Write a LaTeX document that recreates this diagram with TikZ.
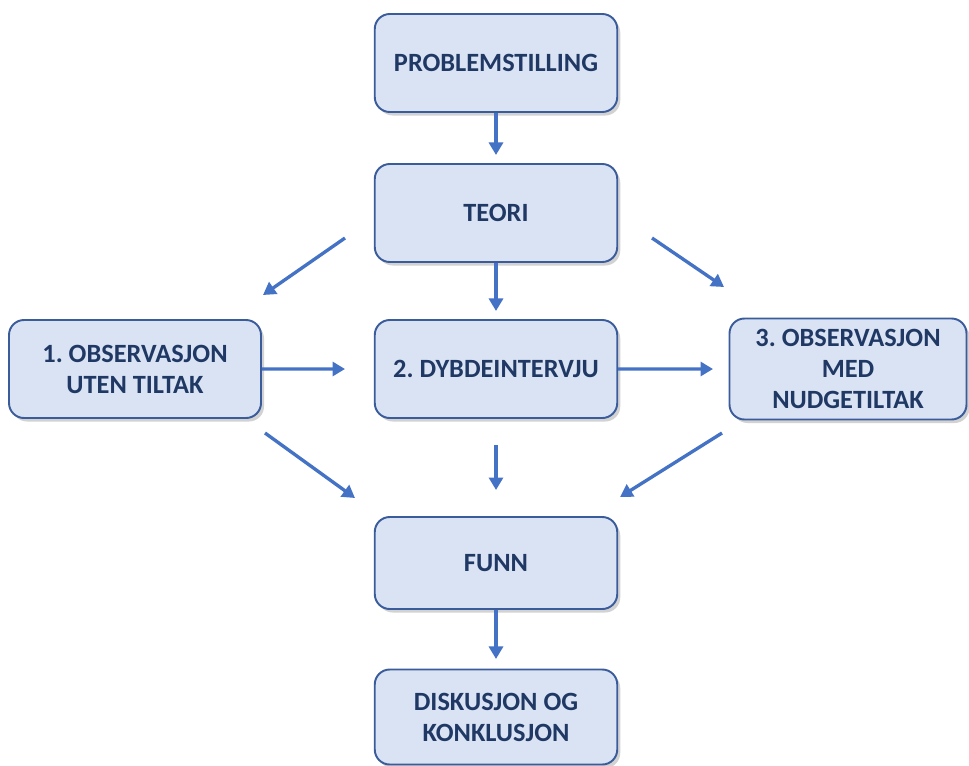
\documentclass[tikz,border=0pt]{standalone}
\usepackage{fontspec}
\setmainfont{Carlito}
\usepackage{xcolor}
\usepackage{tikz}
\usetikzlibrary{arrows.meta,shapes,positioning,calc,shadows}
\frenchspacing

\definecolor{boxfill}{HTML}{DAE3F3}
\definecolor{boxline}{HTML}{3B5C9A}
\definecolor{boxtext}{HTML}{1F3864}
\definecolor{arrowblue}{HTML}{4472C4}

\begin{document}
\begin{tikzpicture}[
    node distance=3cm,
    box/.style={rectangle, rounded corners=0.3cm, draw=boxline, line width=1.1pt, fill=boxfill,
        minimum width=4.85cm, minimum height=1.96cm, align=center, text=boxtext,
        font=\fontsize{15}{17.6}\selectfont\bfseries,
        drop shadow={shadow xshift=0.06cm, shadow yshift=-0.07cm, opacity=0.25, fill=black!70}},
    arrow/.style={-{Triangle[length=0.25cm,width=0.28cm]}, line width=1.9pt, draw=arrowblue}
]
    \useasboundingbox (0,0) rectangle (19.38,-15.30);

    \node[box] (prob) at (9.92,-1.26) {PROBLEMSTILLING};
    \node[box, below of=prob] (teori) {TEORI};
    \node[box, below of=teori, yshift=-0.12cm] (dyb) {2. DYBDEINTERVJU};
    \node[box, left of=dyb, xshift=-4.22cm, minimum width=5.04cm] (obs1) {1. OBSERVASJON\\UTEN TILTAK};
    \node[box, right of=dyb, xshift=4.04cm, minimum width=4.74cm, minimum height=2.02cm] (obs3) {3. OBSERVASJON\\MED\\NUDGETILTAK};
    \node[box, below of=dyb, yshift=-0.88cm, minimum height=1.84cm] (funn) {FUNN};
    \node[box, below of=funn, yshift=-0.08cm, minimum height=1.9cm] (disk) {DISKUSJON OG\\KONKLUSJON};

    % free ends of the arrows
    \coordinate (teori_in) at ($(prob.south)+(0,-0.84)$);
    \coordinate (l_from) at (6.90,-4.76);
    \coordinate (l_to) at (5.26,-5.90);
    \coordinate (r_from) at (13.04,-4.76);
    \coordinate (r_to) at (14.48,-5.74);
    \coordinate (dyb_in) at ($(teori.south)+(0,-0.96)$);
    \coordinate (mid_l) at (6.90,-7.38);
    \coordinate (mid_r) at (14.26,-7.38);
    \coordinate (dl_from) at (5.30,-8.66);
    \coordinate (dl_to) at (7.10,-9.96);
    \coordinate (dm_from) at (9.92,-8.90);
    \coordinate (dm_to) at (9.92,-9.80);
    \coordinate (dr_from) at (14.44,-8.66);
    \coordinate (dr_to) at (12.40,-9.94);
    \coordinate (disk_in) at ($(funn.south)+(0,-0.98)$);

    \draw[arrow] (prob.south) -- (teori_in);
    \draw[arrow] (l_from) -- (l_to);
    \draw[arrow] (r_from) -- (r_to);
    \draw[arrow] (teori.south) -- (dyb_in);
    \draw[arrow] (obs1.east) -- (mid_l);
    \draw[arrow] (dyb.east) -- (mid_r);
    \draw[arrow] (dl_from) -- (dl_to);
    \draw[arrow] (dm_from) -- (dm_to);
    \draw[arrow] (dr_from) -- (dr_to);
    \draw[arrow] (funn.south) -- (disk_in);
\end{tikzpicture}
\end{document}
